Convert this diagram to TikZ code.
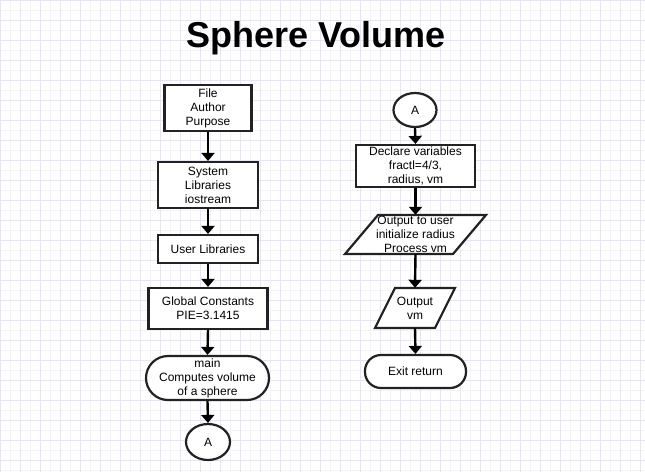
\documentclass[tikz,border=0pt]{standalone}
\usepackage{fontspec}
\setmainfont{Liberation Sans}
\usetikzlibrary{arrows.meta,shapes.geometric}
\definecolor{gridminor}{HTML}{F2F2FC}
\definecolor{gridmajor}{HTML}{E4E4FA}
\definecolor{edgecol}{HTML}{222222}
\begin{document}
\begin{tikzpicture}[x=1pt,y=-1pt,
  every node/.style={font=\fontsize{12}{14}\selectfont, align=center, inner sep=0pt},
  procbox/.style={draw=edgecol, line width=2.2pt, fill=white, rectangle},
  termbox/.style={draw=edgecol, line width=2.2pt, fill=white, rectangle},
  conn/.style={draw=edgecol, line width=2.2pt, fill=white, ellipse},
  iobox/.style={draw=edgecol, line width=2.2pt, fill=white, line join=miter},
  anchorbox/.style={rectangle, draw=none},
  flow/.style={line width=2.4pt, -{Triangle[width=13pt,length=8pt]}}
]
\useasboundingbox (0,0) rectangle (645,472);
\fill[white] (0,0) rectangle (645,472);
\foreach \x in {10,30,...,640} \draw[gridminor, line width=1pt] (\x,0) -- (\x,472);
\foreach \y in {10,30,...,470} \draw[gridminor, line width=1pt] (0,\y) -- (645,\y);
\foreach \x in {0,20,...,640} \draw[gridmajor, line width=1pt] (\x,0) -- (\x,472);
\foreach \y in {0,20,...,470} \draw[gridmajor, line width=1pt] (0,\y) -- (645,\y);

\node[font=\fontsize{36}{40}\selectfont\bfseries] (title) at (316,38) {Sphere Volume};

% left column
\node[procbox, minimum width=87pt, minimum height=46pt] (b1) at (208,108) {File\\Author\\Purpose};
\node[procbox, minimum width=100pt, minimum height=46pt] (b2) at (208,185) {System\\Libraries\\iostream};
\node[procbox, minimum width=100pt, minimum height=28pt] (b3) at (208,249) {User Libraries};
\node[procbox, minimum width=119pt, minimum height=41pt] (b4) at (208,308.5) {Global Constants\\PIE=3.1415};
\node[termbox, rounded corners=22pt, minimum width=123pt, minimum height=44pt] (b5) at (207.5,378) {main\\Computes volume\\of a sphere};
\node[conn, minimum width=44pt, minimum height=36pt] (a1) at (208,442) {A};

% right column
\node[conn, minimum width=43pt, minimum height=34pt] (a2) at (415,110) {A};
\node[procbox, minimum width=119pt, minimum height=42pt] (d1) at (415.5,166) {Declare variables\\fractl=4/3,\\radius, vm};
\coordinate (p1tl) at (378,215); \coordinate (p1tr) at (486,215);
\coordinate (p1br) at (453,254); \coordinate (p1bl) at (345,254);
\draw[iobox] (p1tl) -- (p1tr) -- (p1br) -- (p1bl) -- cycle;
\node[anchorbox, minimum width=100pt, minimum height=39pt] (p1) at (415.5,234.5) {Output to user\\initialize radius\\Process vm};
\coordinate (p2tl) at (395,288); \coordinate (p2tr) at (455,288);
\coordinate (p2br) at (435,328); \coordinate (p2bl) at (375,328);
\draw[iobox] (p2tl) -- (p2tr) -- (p2br) -- (p2bl) -- cycle;
\node[anchorbox, minimum width=60pt, minimum height=40pt] (p2) at (415,308) {Output\\vm};
\node[termbox, rounded corners=16pt, minimum width=101pt, minimum height=33pt] (e1) at (415.5,371.5) {Exit return};

% connectors
\draw[flow] (b1.south) -- (b2.north);
\draw[flow] (b2.south) -- (b3.north);
\draw[flow] (b3.south) -- (b4.north);
\draw[flow] (b4.south) -- (b5.north);
\draw[flow] (b5.south) -- (a1.north);
\draw[flow] (a2.south) -- (d1.north);
\draw[flow] (d1.south) -- (p1.north);
\draw[flow] (p1.south) -- (p2.north);
\draw[flow] (p2.south) -- (e1.north);
\end{tikzpicture}
\end{document}
